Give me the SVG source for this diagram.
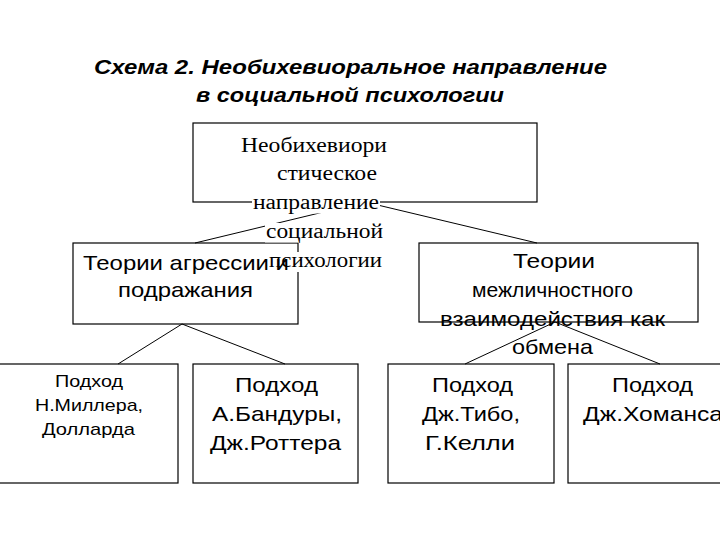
<svg xmlns="http://www.w3.org/2000/svg" width="720" height="540" viewBox="0 0 720 540">
<style>
.box{fill:none;stroke:#000;stroke-width:1.2}
.con line{stroke:#000;stroke-width:1}
.t{font-family:"Liberation Sans",Arial,sans-serif;font-size:21px;fill:#000}
.s{font-family:"Liberation Sans",Arial,sans-serif;font-size:17px;fill:#000}
.r{font-family:"Liberation Serif","Times New Roman",serif;font-size:20px;fill:#000}
.h{font-family:"Liberation Sans",Arial,sans-serif;font-size:20px;font-weight:bold;font-style:italic;fill:#000}
.bg{fill:#fff}
</style>
<rect width="720" height="540" fill="#fff"/>
<g id="title">
<text class="h" x="94" y="74" textLength="513" lengthAdjust="spacingAndGlyphs">Схема 2. Необихевиоральное направление</text>
<text class="h" x="196" y="102" textLength="308" lengthAdjust="spacingAndGlyphs">в социальной психологии</text>
</g>
<g id="connectors" class="con">
<line x1="365" y1="202" x2="195" y2="243"/>
<line x1="365" y1="202" x2="537" y2="243"/>
<line x1="182" y1="324" x2="118" y2="364"/>
<line x1="182" y1="324" x2="285" y2="364"/>
<line x1="555" y1="322" x2="465" y2="364"/>
<line x1="555" y1="322" x2="660" y2="364"/>
</g>
<g id="theories-aggression">
<rect class="box" x="73" y="243" width="225" height="81"/>
<text class="t" x="83" y="270" textLength="206" lengthAdjust="spacingAndGlyphs">Теории агрессии и</text>
<text class="t" x="118" y="297" textLength="135" lengthAdjust="spacingAndGlyphs">подражания</text>
</g>
<g id="neobehaviorism">
<rect class="box" x="193" y="123" width="344" height="79"/>
<rect class="bg" x="252" y="194" width="128" height="19.5"/>
<rect class="bg" x="265" y="223" width="119" height="19.5"/>
<rect class="bg" x="290" y="252" width="93" height="20"/>
<text class="r" x="241" y="152" textLength="146" lengthAdjust="spacingAndGlyphs">Необихевиори</text>
<text class="r" x="277" y="180" textLength="100" lengthAdjust="spacingAndGlyphs">стическое</text>
<text class="r" x="253" y="209" textLength="126" lengthAdjust="spacingAndGlyphs">направление</text>
<text class="r" x="266" y="238" textLength="117" lengthAdjust="spacingAndGlyphs">социальной</text>
<text class="r" x="269" y="267" textLength="113" lengthAdjust="spacingAndGlyphs">психологии</text>
</g>
<g id="theories-exchange">
<rect class="box" x="419" y="243" width="279" height="79"/>
<text class="t" x="513" y="268" textLength="82" lengthAdjust="spacingAndGlyphs">Теории</text>
<text class="t" x="472" y="297" textLength="161" lengthAdjust="spacingAndGlyphs">межличностного</text>
<text class="t" x="440" y="326" textLength="225" lengthAdjust="spacingAndGlyphs">взаимодействия как</text>
<text class="t" x="512" y="354" textLength="81" lengthAdjust="spacingAndGlyphs">обмена</text>
</g>
<g id="miller">
<rect class="box" x="-2" y="364" width="180" height="119"/>
<text class="s" x="55" y="387" textLength="68" lengthAdjust="spacingAndGlyphs">Подход</text>
<text class="s" x="35" y="411" textLength="108" lengthAdjust="spacingAndGlyphs">Н.Миллера,</text>
<text class="s" x="42" y="435" textLength="93" lengthAdjust="spacingAndGlyphs">Долларда</text>
</g>
<g id="bandura">
<rect class="box" x="193" y="364" width="165" height="119"/>
<text class="t" x="235" y="392" textLength="83" lengthAdjust="spacingAndGlyphs">Подход</text>
<text class="t" x="212" y="421" textLength="130" lengthAdjust="spacingAndGlyphs">А.Бандуры,</text>
<text class="t" x="210" y="450" textLength="131" lengthAdjust="spacingAndGlyphs">Дж.Роттера</text>
</g>
<g id="thibaut">
<rect class="box" x="388" y="364" width="166" height="119"/>
<text class="t" x="432" y="392" textLength="81" lengthAdjust="spacingAndGlyphs">Подход</text>
<text class="t" x="422" y="421" textLength="98" lengthAdjust="spacingAndGlyphs">Дж.Тибо,</text>
<text class="t" x="425" y="450" textLength="90" lengthAdjust="spacingAndGlyphs">Г.Келли</text>
</g>
<g id="homans">
<rect class="box" x="568" y="364" width="160" height="119"/>
<text class="t" x="612" y="392" textLength="81" lengthAdjust="spacingAndGlyphs">Подход</text>
<text class="t" x="583" y="421" textLength="140" lengthAdjust="spacingAndGlyphs">Дж.Хоманса</text>
</g>
</svg>
